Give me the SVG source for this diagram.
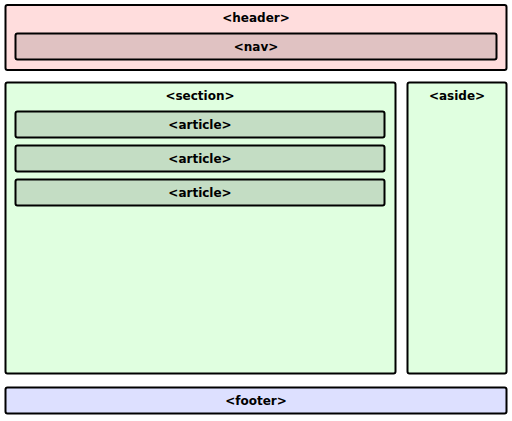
<svg xmlns="http://www.w3.org/2000/svg" width="512" height="421" viewBox="0 0 512 421">
<style>
.b{stroke:#000;stroke-width:2}
.t{font-family:"DejaVu Sans",Verdana,sans-serif;font-weight:bold;font-size:12px;text-anchor:middle;fill:#000}
</style>
<rect width="512" height="421" fill="#fff"/>
<g id="header"><rect class="b" x="5.5" y="5" width="501" height="65" rx="2" fill="#FFDDDD"/><text class="t" x="256" y="22">&lt;header&gt;</text></g>
<g id="nav"><rect class="b" x="15.5" y="33.5" width="481" height="26" rx="2" fill="#E0C2C2"/><text class="t" x="256" y="51">&lt;nav&gt;</text></g>
<g id="section"><rect class="b" x="5.5" y="82.5" width="390" height="291" rx="2" fill="#E0FFE0"/><text class="t" x="200" y="100">&lt;section&gt;</text></g>
<g id="article1"><rect class="b" x="15.5" y="111.5" width="369" height="26" rx="2" fill="#C4DDC4"/><text class="t" x="200" y="129">&lt;article&gt;</text></g>
<g id="article2"><rect class="b" x="15.5" y="145.5" width="369" height="26" rx="2" fill="#C4DDC4"/><text class="t" x="200" y="163">&lt;article&gt;</text></g>
<g id="article3"><rect class="b" x="15.5" y="179.5" width="369" height="26" rx="2" fill="#C4DDC4"/><text class="t" x="200" y="197">&lt;article&gt;</text></g>
<g id="aside"><rect class="b" x="407.5" y="82.5" width="99" height="291" rx="2" fill="#E0FFE0"/><text class="t" x="457" y="100">&lt;aside&gt;</text></g>
<g id="footer"><rect class="b" x="5.5" y="387.5" width="501" height="26" rx="2" fill="#DDE0FF"/><text class="t" x="256" y="405">&lt;footer&gt;</text></g>
<g id="connectors"/>
</svg>
